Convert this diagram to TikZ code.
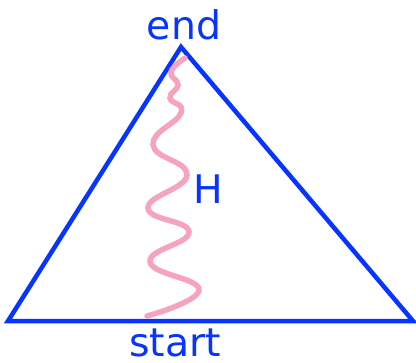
\documentclass[tikz,border=0pt]{standalone}
\usepackage{fontspec}
\setmainfont{DejaVu Sans}
\definecolor{edgeblue}{RGB}{8,52,255}
\definecolor{pathpink}{RGB}{246,164,190}
\begin{document}
\begin{tikzpicture}[
  x=0.025cm, y=-0.025cm,
  edge/.style={draw=edgeblue, line width=3.2pt, line join=miter},
  wiggle/.style={draw=pathpink, line width=3.9pt, line cap=round},
  lbl/.style={text=edgeblue, font=\fontsize{28}{32}\selectfont, inner sep=0pt, anchor=base}
]
\useasboundingbox (0,0) rectangle (416,363);
\coordinate (left) at (8,321);
\coordinate (right) at (413,321);
\coordinate (top) at (181,47);
\coordinate (pstart) at (147,316);
\coordinate (pend) at (185,58);

\draw[edge] (left) -- (right) -- (top) -- cycle;
\draw[wiggle] plot[smooth, tension=0.8] coordinates {(pstart) (199,290) (150,262) (189,232) (148,208) (187,175) (153,145) (181,113) (170,98) (178,85) (171,72) (pend)};

\node[lbl] (endlbl) at (184,39) {end};
\node[lbl] (startlbl) at (175,356) {start};
\node[lbl] (hlbl) at (208,203) {H};
\end{tikzpicture}
\end{document}
